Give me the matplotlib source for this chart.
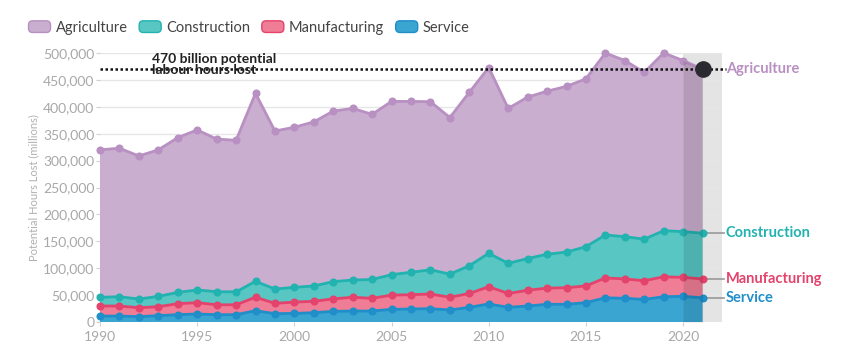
import numpy as np
import matplotlib
matplotlib.use('Agg')
import matplotlib.pyplot as plt
from matplotlib.patches import FancyBboxPatch, Rectangle
from matplotlib.legend_handler import HandlerPatch

plt.rcParams['font.family'] = ['Lato', 'DejaVu Sans']

# potential labour hours lost (millions), by sector
years = list(range(1990, 2022))
service = [11000, 11000, 10000, 11800, 13600, 14900, 13600, 13600, 21000, 15500,
           16000, 17300, 19800, 20400, 20400, 23500, 24200, 24800, 22300, 27300,
           33500, 27300, 29700, 32900, 32900, 36000, 45000, 44000, 42000, 47000,
           47700, 45000]
manufacturing = [18700, 18700, 16600, 16700, 20400, 21100, 18400, 18400, 25000, 19200,
                 21000, 21200, 23200, 25600, 23600, 26500, 26500, 27200, 23700, 25700,
                 32100, 25700, 29300, 30100, 30900, 31000, 37000, 36000, 34800, 37000,
                 35300, 35000]
construction = [16200, 17300, 16100, 19200, 21000, 23500, 24300, 24000, 29600, 26600,
                27500, 28500, 32000, 32000, 35000, 38000, 41700, 45000, 43000, 51600,
                62100, 56000, 59000, 63000, 66200, 73000, 79700, 78600, 77200, 85700,
                85000, 85000]
agriculture = [274100, 276000, 265900, 272300, 287600, 297500, 283700, 281700, 349400, 293700,
               297500, 305000, 317000, 319000, 307000, 322000, 317600, 312500, 291000, 322400,
               345300, 288000, 300000, 303000, 308000, 312000, 338300, 327400, 310000, 330300,
               318000, 305000]
sectors = ['Service', 'Manufacturing', 'Construction', 'Agriculture']
fills = ['#3ba5d1', '#ef7d96', '#58c6c3', '#c9aecf']
lines = ['#1f8ec9', '#e3436c', '#22b3b0', '#b890c2']
total_2021 = 470000


class RoundBox(HandlerPatch):
    def create_artists(self, legend, orig_handle, xdescent, ydescent, width, height,
                       fontsize, trans):
        p = FancyBboxPatch((-xdescent + 1, -ydescent + 0.5), width - 2, height - 1,
                           boxstyle='round,pad=0,rounding_size=3',
                           fc=orig_handle.get_facecolor(), ec=orig_handle.get_edgecolor(),
                           lw=1, transform=trans)
        return [p]


fig = plt.figure(figsize=(8.56, 3.55), dpi=100)
ax = fig.add_axes([100 / 856, 33 / 355, 622 / 856, 269 / 355])

x = np.array(years)
data = np.array([service, manufacturing, construction, agriculture])
cum = np.cumsum(data, axis=0)

ax.axvspan(2020, 2022, color='#e4e4e4', zorder=0, lw=0)
ax.stackplot(x, data, colors=fills, lw=0, zorder=2)
for i in range(4):
    ax.plot(x, cum[i], color=lines[i], lw=2, marker='o', ms=4.8, zorder=3, clip_on=False)
ax.fill_between(x[-2:], 0, cum[-1][-2:], color='black', alpha=0.1, lw=0, zorder=4)

# 470 billion line
ax.plot([1990, 2022.2], [total_2021, total_2021], color='#111111', lw=1.8,
        ls=(0, (1, 1)), zorder=5, clip_on=False)
ax.plot([2021], [total_2021], marker='o', ms=11, color='#2b2a30', zorder=6, clip_on=False)
ax.text(1992.7, 479000, '470 billion potential\nlabour hours lost', fontsize=10,
        fontweight='bold', color='#222222', va='center', ha='left', zorder=6,
        linespacing=0.95)

# right side labels
for i in range(4):
    yv = cum[i][-1]
    if i < 3:
        ax.plot([2021.2, 2022.1], [yv, yv], color='#999999', lw=1.2, clip_on=False, zorder=1)
    ax.text(2022.2, yv, sectors[i], color=lines[i], fontsize=10.5, fontweight='bold',
            va='center', ha='left')

ax.set_xlim(1990, 2022)
ax.set_ylim(0, 500000)
ax.set_yticks(range(0, 500001, 50000))
ax.set_yticklabels([f'{v:,}' for v in range(0, 500001, 50000)])
ax.set_xticks(range(1990, 2021, 5))
ax.grid(axis='y', color='#e6e6e6', lw=1, zorder=0)
ax.set_axisbelow(True)
for s in ax.spines.values():
    s.set_visible(False)
ax.tick_params(axis='both', colors='#d0d0d0', labelcolor='#a8a8a8', labelsize=10, length=3)
ax.tick_params(axis='y', pad=1)
ax.set_ylabel('Potential Hours Lost (millions)', color='#b0b0b0', fontsize=8, labelpad=3)

# legend with rounded swatches
handles = [Rectangle((0, 0), 1, 1, fc=fills[i], ec=lines[i]) for i in [3, 2, 1, 0]]
fig.legend(handles, [sectors[i] for i in [3, 2, 1, 0]], loc='upper left',
           bbox_to_anchor=(14 / 856, 1 - 7 / 355), ncol=4, frameon=False, fontsize=10.5,
           handlelength=1.7, handleheight=1.0, handletextpad=0.25, columnspacing=0.7,
           labelcolor='#444444', handler_map={Rectangle: RoundBox()})

fig.savefig('out.png', dpi=100)
